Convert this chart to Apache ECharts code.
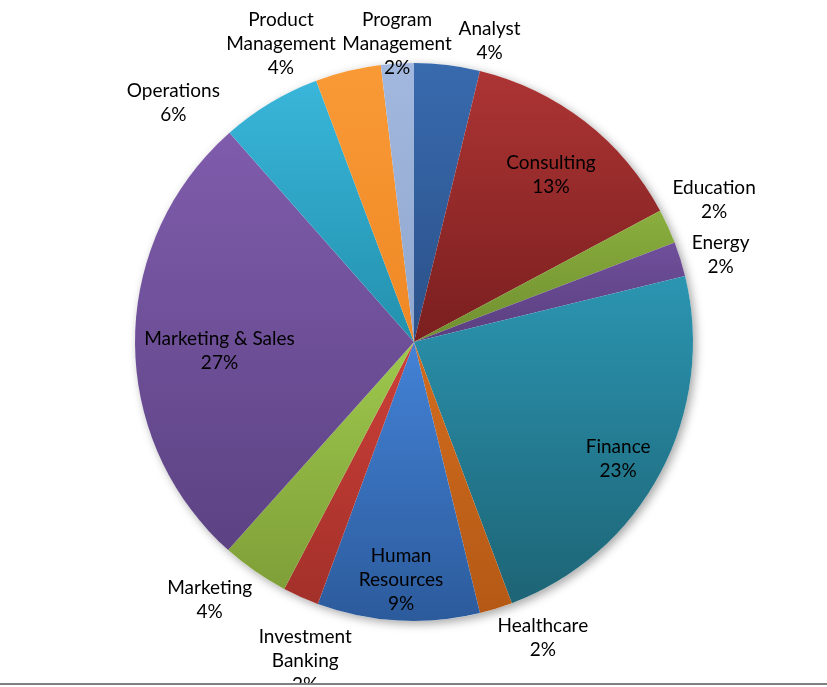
<!DOCTYPE html>
<html><head><meta charset="utf-8">
<script src="https://cdn.jsdelivr.net/npm/echarts@6/dist/echarts.min.js"></script>
<style>html,body{margin:0;padding:0;background:#fff}#c{width:827px;height:687px}</style>
</head><body><div id="c"></div>
<script>
// ---- data ----
const categories = ['Analyst','Consulting','Education','Energy','Finance','Healthcare','Human Resources','Investment Banking','Marketing','Marketing & Sales','Operations','Product Management','Program Management'];
const values = [3.8, 13.4, 2.0, 2.0, 23.1, 1.9, 9.4, 2.1, 3.9, 26.9, 5.8, 3.8, 1.9];

// ---- styles ----
const topColors    = ['#386aae','#ad3434','#8aae3e','#6f4f9a','#2b95b1','#d26c1e','#4382d6','#cc4038','#9dc84d','#7f5cac','#39b6da','#f99a36','#a2b8de'];
const bottomColors = ['#2b5189','#7a1f1f','#6f8f2f','#5a3f80','#1d6475','#b45915','#2c5b9c','#a3302a','#7f9f38','#5c4283','#2390ad','#ee8825','#90a7cf'];

const CX = 414, CY = 342, R = 279;
const FONT_SIZE = 19, LINE_H = 24, FONT_FAMILY = 'Lato';
const GAP_IN = 8, GAP_OUT = 5, TOP = 8, ANCHOR_DEAD = 0.1, ANCHOR_K = 5.2, PAD = 6, INSIDE_MIN = 0.08, INSIDE_DY = 9;

const total = values.reduce((a, b) => a + b, 0);
function wrapName(n) { return n.indexOf('&') >= 0 ? n : n.split(' ').join('\n'); }
function labelText(i) { return wrapName(categories[i]) + '\n' + Math.round(values[i] / total * 100) + '%'; }

// ---- label layout (Excel-like best fit) computed from the data angles ----
const ctx = document.createElement('canvas').getContext('2d');
ctx.font = FONT_SIZE + 'px ' + FONT_FAMILY;
const anchor = v => Math.sign(v) * Math.min(1, Math.max(0, Math.abs(v) - ANCHOR_DEAD) * ANCHOR_K);
let cum = 0;
const pos = values.map((v, i) => {
  const lines = labelText(i).split('\n');
  const w = Math.max(...lines.map(l => ctx.measureText(l).width));
  const h = lines.length * LINE_H;
  const hw = w / 2, hh = h / 2;
  const theta = (cum + v / 2) / total * 2 * Math.PI; cum += v;
  const dx = Math.sin(theta), dy = -Math.cos(theta);
  let x, y, inside = v / total >= INSIDE_MIN, clamped = false;
  if (inside) {
    let best = 0;
    for (let s = 0; s <= R; s += 0.5) {
      const cx = s * dx, cy = s * dy;
      let far = 0;
      [[cx - hw, cy - hh], [cx + hw, cy - hh], [cx - hw, cy + hh], [cx + hw, cy + hh]].forEach(p => { far = Math.max(far, Math.hypot(p[0], p[1])); });
      if (far <= R - GAP_IN) best = s; else break;
    }
    x = CX + best * dx; y = CY + best * dy + INSIDE_DY;
  } else {
    const px = CX + (R + GAP_OUT) * dx, py = CY + (R + GAP_OUT) * dy;
    x = px + hw * anchor(dx);
    y = py + hh * anchor(dy);
    if (y - hh < TOP) { y = TOP + hh; clamped = true; }
  }
  const signed = theta > Math.PI ? theta - 2 * Math.PI : theta;
  return { x, y, hw, hh, theta, signed, inside, clamped };
});
// resolve overlaps of outside labels by sliding along the tangent (horizontally along the top edge)
const placed = [];
pos.map((p, i) => i).filter(i => !pos[i].inside)
  .sort((a, b) => Math.abs(pos[a].signed) - Math.abs(pos[b].signed))
  .forEach(i => {
    const p = pos[i];
    const side = p.signed >= 0 ? 1 : -1;
    let tx = side * Math.cos(p.theta), ty = side * Math.sin(p.theta);
    if (p.clamped) { tx = side; ty = 0; }
    const hit = () => placed.some(q => Math.abs(p.x - q.x) < p.hw + q.hw + PAD && Math.abs(p.y - q.y) < p.hh + q.hh + PAD);
    let n = 0;
    while (hit() && n < 300) { p.x += tx; p.y += ty; n++; }
    if (p.y - p.hh < TOP) p.y = TOP + p.hh;
    placed.push(p);
  });

const chart = echarts.init(document.getElementById('c'));
chart.setOption({
  backgroundColor: '#ffffff',
  animation: false,
  series: [
    {
      type: 'pie', silent: true, z: 1,
      center: [CX, CY], radius: R,
      label: { show: false }, labelLine: { show: false },
      data: [{ value: total, itemStyle: { color: '#ffffff', shadowBlur: 10, shadowColor: 'rgba(0,0,0,0.35)', shadowOffsetX: 3, shadowOffsetY: 3 } }]
    },
    {
      type: 'pie', z: 2,
      center: [CX, CY], radius: R,
      startAngle: 90, clockwise: true,
      avoidLabelOverlap: false,
      itemStyle: { borderWidth: 0 },
      label: {
        show: true, position: 'inside',
        fontFamily: FONT_FAMILY, fontSize: FONT_SIZE, lineHeight: LINE_H, color: '#000',
        formatter: p => wrapName(p.name) + '\n' + Math.round(p.percent) + '%'
      },
      labelLine: { show: false },
      labelLayout: p => { const q = pos[p.dataIndex]; return { x: q.x, y: q.y, align: 'center', verticalAlign: 'middle' }; },
      data: categories.map((c, i) => ({
        name: c, value: values[i],
        itemStyle: { color: { type: 'linear', x: 0, y: 0, x2: 0, y2: 1, colorStops: [{ offset: 0, color: topColors[i] }, { offset: 1, color: bottomColors[i] }] } }
      }))
    }
  ],
  graphic: [
    { type: 'rect', z: 100, shape: { x: 0, y: 683, width: 827, height: 2 }, style: { fill: '#7f7f7f' } },
    { type: 'rect', z: 100, shape: { x: 0, y: 685, width: 827, height: 2 }, style: { fill: '#ffffff' } }
  ]
});
</script></body></html>
